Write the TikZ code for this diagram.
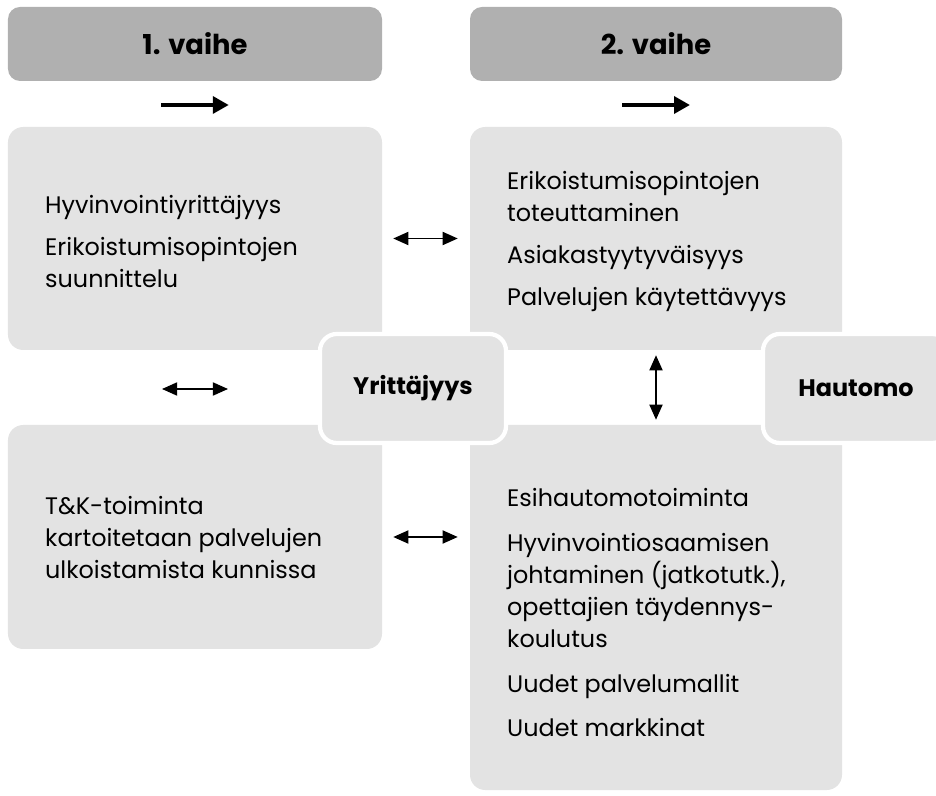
\documentclass[tikz,border=0pt]{standalone}
\usepackage{fontspec}
\setmainfont{Poppins}
\usepackage{tikz}
\usetikzlibrary{arrows.meta,positioning,calc}
\usepackage{xcolor}
\definecolor{vaihegrey}{RGB}{176,176,176}
\definecolor{boxgrey}{RGB}{227,227,227}
\newcommand{\boxfont}{\fontsize{17}{22.8}\selectfont}
\newcommand{\phasefont}{\fontsize{19.5}{23}\selectfont\bfseries}

\begin{document}
\begin{tikzpicture}[
    every node/.style={font=\boxfont},
    phase/.style={rounded corners=0.3cm, fill=vaihegrey, minimum width=9.35cm,
          minimum height=1.85cm, font=\phasefont},
    panel/.style={rounded corners=0.38cm, fill=boxgrey, minimum width=9.35cm},
    hub/.style={draw=white, line width=3pt, rounded corners=0.42cm, fill=boxgrey,
          minimum width=4.65cm, minimum height=2.725cm, font=\boxfont\bfseries},
    itemtext/.style={inner sep=0pt, align=left},
    flow/.style={-{Triangle[length=0.4cm,width=0.42cm]}, line width=2.8pt},
    link/.style={{Triangle[length=0.38cm,width=0.33cm]}-{Triangle[length=0.38cm,width=0.33cm]},
          line width=1.1pt}]
    \clip (0,0) rectangle (23.4,-19.9);
    % phase headers
    \node[phase] (vaihe1) at (4.875,-1.1) {1. vaihe};
    \node[phase, minimum width=9.3cm] (vaihe2) at (16.4,-1.1) {2. vaihe};
    \coordinate (f1a) at (4.03,-2.625);
    \coordinate (f1b) at (5.72,-2.625);
    \coordinate (f2a) at (15.55,-2.625);
    \coordinate (f2b) at (17.25,-2.625);
    \draw[flow] (f1a) -- (f1b);
    \draw[flow] (f2a) -- (f2b);
    % content panels
    \node[panel, minimum height=5.575cm] (tl) at (4.875,-5.9625) {};
    \node[panel, minimum width=9.3cm, minimum height=5.575cm] (tr) at (16.4,-5.9625) {};
    \node[panel, minimum height=5.6cm] (bl) at (4.875,-13.425) {};
    \node[panel, minimum width=9.3cm, minimum height=9.125cm] (br) at (16.4,-15.1875) {};
    \node[itemtext, below right=1.71cm and 0.93cm of tl.north west] (tltext)
          {Hyvinvointiyrittäjyys\\[7pt]Erikoistumisopintojen\\suunnittelu};
    \node[itemtext, below right=1.11cm and 0.93cm of tr.north west] (trtext)
          {Erikoistumisopintojen\\toteuttaminen\\[7pt]Asiakastyytyväisyys\\[7pt]Palvelujen käytettävyys};
    \node[itemtext, below right=1.785cm and 0.93cm of bl.north west] (bltext)
          {T\&K-toiminta\\kartoitetaan palvelujen\\ulkoistamista kunnissa};
    \node[itemtext, below right=1.585cm and 0.93cm of br.north west] (brtext)
          {Esihautomotoiminta\\[9pt]Hyvinvointiosaamisen\\johtaminen (jatkotutk.),\\opettajien täydennys-\\koulutus\\[9pt]Uudet palvelumallit\\[9pt]Uudet markkinat};
    % hubs
    \node[hub] (yrit) at (10.325,-9.7125) {Yrittäjyys};
    \node[hub] (haut) at (21.4,-9.7125) {Hautomo};
    % links
    \coordinate (ma) at (4.05,-9.725);
    \coordinate (mb) at (5.7,-9.725);
    \draw[link, shorten <=0.275cm, shorten >=0.3cm] (tl.east) -- (tr.west);
    \draw[link, shorten <=0.275cm, shorten >=0.3cm] (bl.east) -- (bl.east -| br.west);
    \draw[link] (ma) -- (mb);
    \draw[link, shorten <=0.125cm, shorten >=0.125cm] (tr.south) -- (br.north);
\end{tikzpicture}
\end{document}
